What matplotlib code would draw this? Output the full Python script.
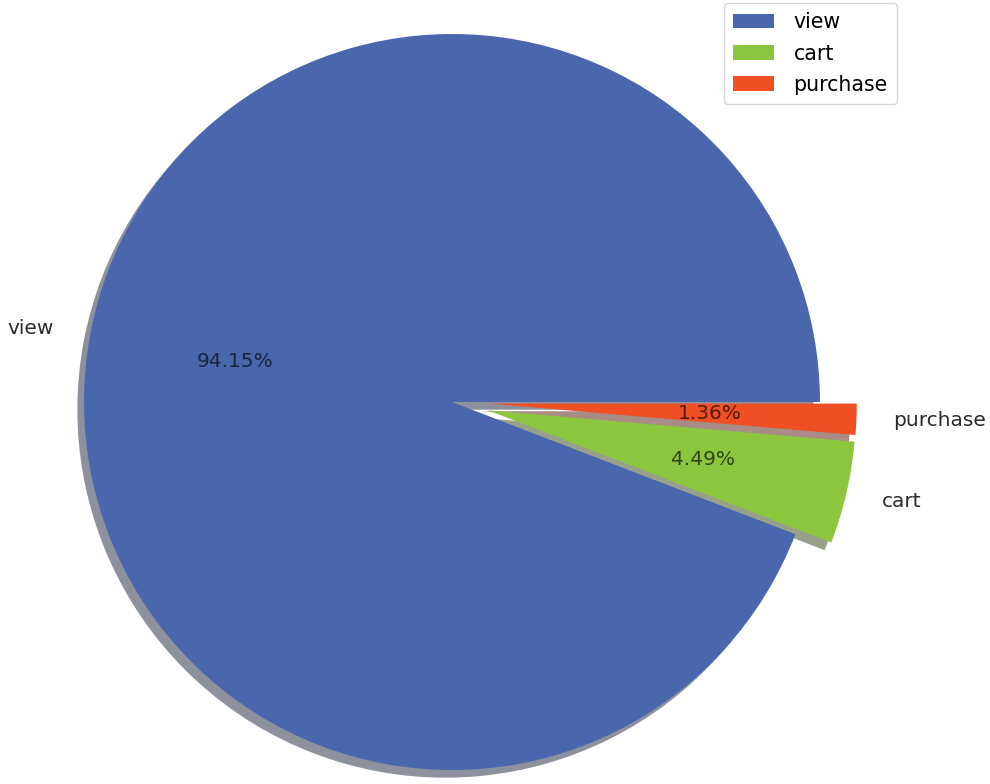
import matplotlib
matplotlib.use("Agg")
import matplotlib.pyplot as plt

# 데이터 (이벤트 유형별 비율)
labels = ["view", "cart", "purchase"]
shares = [94.15, 4.49, 1.36]
colors = ["#4a67ae", "#8cc63f", "#f04e23"]
explode = [0, 0.1, 0.1]

W, H, DPI = 990, 784, 100
fig = plt.figure(figsize=(W / DPI, H / DPI), dpi=DPI)
ax = fig.add_axes([0, 0, 1, 1])

wedges, texts, autotexts = ax.pie(
    shares, labels=labels, colors=colors, explode=explode,
    autopct="%.2f%%", startangle=0,
    shadow={"ox": -0.013, "oy": -0.015, "shade": 0.65, "linewidth": 0},
    textprops={"fontsize": 14.5, "color": "#2a2a2a"},
)
for t in autotexts:
    t.set_color((0, 0, 0, 0.65))

# 중심 (452, 402) px, 반지름 368 px
cx, cy, r = 452, 402, 368
ax.set_xlim(-cx / r, (W - cx) / r)
ax.set_ylim(-(H - cy) / r, cy / r)
ax.set_aspect("equal")
ax.axis("off")

ax.legend(wedges, labels, loc="upper right", fontsize=14.8,
          bbox_to_anchor=(897 / W, 1 - 3 / H), bbox_transform=fig.transFigure,
          borderaxespad=0, labelspacing=0.55, handletextpad=0.95, borderpad=0.45)

fig.savefig("out.png", dpi=DPI)
